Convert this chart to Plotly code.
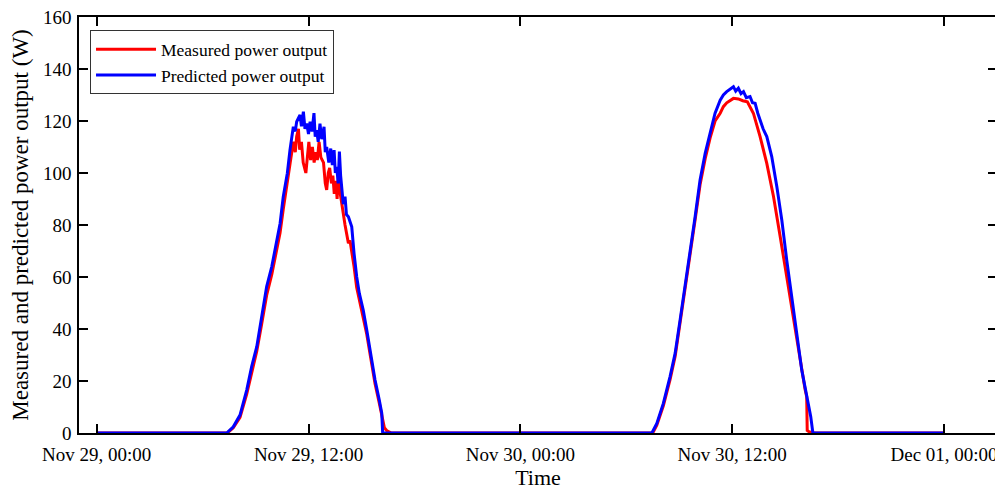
import pandas as pd
import plotly.graph_objects as go

# hours since Nov 29, 00:00
measured_hours = [0, 7.4, 7.74, 8.12, 8.5, 8.78, 9.07, 9.35, 9.63, 9.92, 10.1, 10.25, 10.39, 10.57, 10.7, 10.8,
                  10.95, 11.05, 11.14, 11.25, 11.33, 11.43, 11.5, 11.6, 11.7, 11.85, 11.95, 12.02, 12.12, 12.22,
                  12.32, 12.4, 12.5, 12.6, 12.7, 12.85, 12.95, 13.03, 13.12, 13.2, 13.3, 13.38, 13.46, 13.55,
                  13.62, 13.7, 13.8, 13.88, 13.98, 14.07, 14.15, 14.26, 14.35, 14.45, 14.58, 14.73, 14.88, 15.1,
                  15.3, 15.52, 15.77, 16.01, 16.15, 16.22, 16.3, 16.45, 16.7,
                  31.5, 31.73, 32.1, 32.48, 32.77, 33.05, 33.33, 33.62, 33.9, 34.18, 34.47, 34.75, 35.03, 35.32,
                  35.5, 35.69, 36.07, 36.35, 36.6, 36.86, 37.2, 37.58, 37.96, 38.34, 38.72, 39.09, 39.47, 39.85,
                  40.13, 40.22, 40.25, 40.35, 40.6, 48]
measured_power = [0, 0, 2.0, 6.0, 15, 23.5, 31.5, 42, 53, 61, 67, 73, 77, 86, 92, 96,
                  104, 109, 112, 108, 114, 117, 109, 112, 104, 100, 108, 112, 105, 110,
                  104, 108, 105, 112, 106, 104, 96, 93.5, 100, 102, 96, 99, 92, 97,
                  90, 99, 92, 88, 84, 80, 77, 73, 74, 70, 64, 56, 51, 45,
                  38, 29, 19, 11.5, 6.5, 4, 2, 0.8, 0,
                  0, 3, 10.5, 20.5, 29.5, 42, 55, 69, 82, 95.5, 105.5, 113.5, 120, 123,
                  125.5, 127, 128.7, 128.5, 127.8, 127.4, 123, 114, 103.7, 91, 75.5, 60, 43.5, 27,
                  16.7, 14, 1, 0.5, 0, 0]

predicted_hours = [0, 7.37, 7.74, 8.12, 8.5, 8.78, 9.07, 9.35, 9.63, 9.92, 10.1, 10.25, 10.39, 10.57, 10.7, 10.8,
                   10.95, 11.05, 11.14, 11.25, 11.33, 11.42, 11.52, 11.6, 11.71, 11.8, 11.9, 12.0, 12.09, 12.2,
                   12.31, 12.38, 12.46, 12.55, 12.65, 12.75, 12.88, 12.95, 13.03, 13.15, 13.26, 13.35, 13.45,
                   13.52, 13.6, 13.68, 13.75, 13.82, 13.88, 13.97, 14.07, 14.15, 14.26, 14.35, 14.45, 14.58,
                   14.73, 14.88, 15.1, 15.3, 15.52, 15.77, 16.01, 16.15, 16.2,
                   31.45, 31.73, 32.1, 32.48, 32.77, 33.05, 33.33, 33.62, 33.9, 34.18, 34.47, 34.75, 35.03,
                   35.32, 35.5, 35.69, 35.85, 36.07, 36.2, 36.35, 36.5, 36.64, 36.8, 37.01, 37.15, 37.3, 37.45,
                   37.58, 37.75, 37.96, 38.1, 38.24, 38.53, 38.81, 39.09, 39.38, 39.66, 39.94, 40.23, 40.45,
                   40.57, 48]
predicted_power = [0, 0, 2.4, 6.9, 16.5, 25.5, 33.2, 44.7, 56.3, 64, 70.4, 76, 80.6, 90.9, 96, 99.9,
                   108.8, 114, 117.8, 116, 119.7, 121, 122.3, 118, 123.6, 117, 119, 115, 119.7, 116,
                   123, 114, 116.5, 112, 119, 113, 117.8, 108, 110, 104, 109.4, 103, 108.8,
                   100, 102.4, 96, 108.2, 99, 93.5, 88, 90.9, 84, 83.2, 81, 79.3, 69.1,
                   60.1, 53.7, 47.3, 39.6, 30.6, 20.4, 12.7, 7.6, 0,
                   0, 3.7, 11.4, 21.7, 30.7, 43.5, 56.3, 70.4, 83.2, 97.3, 107.6, 115.3, 123,
                   128, 130, 131.3, 132, 133.2, 131.5, 132.6, 130.5, 131.3, 129, 129.4, 127, 126.8, 123,
                   120.4, 117, 114, 110, 106.3, 94.7, 81.9, 66.5, 52.4, 38.3, 24.2, 14, 6.3,
                   0, 0]

x_tick_labels_start = "2021-11-29 00:00"
start = pd.Timestamp(x_tick_labels_start)
t_meas = [start + pd.Timedelta(hours=h) for h in measured_hours]
t_pred = [start + pd.Timedelta(hours=h) for h in predicted_hours]

FONT = "Liberation Serif, Times New Roman, serif"

fig = go.Figure()
fig.add_trace(go.Scatter(x=t_meas, y=measured_power, mode="lines", name="Measured power output",
                         line=dict(color="#FF0000", width=3)))
fig.add_trace(go.Scatter(x=t_pred, y=predicted_power, mode="lines", name="Predicted power output",
                         line=dict(color="#0000FF", width=3)))

fig.update_layout(
    width=995, height=482,
    margin=dict(l=71, r=6, t=9, b=57),
    paper_bgcolor="white", plot_bgcolor="white",
    font=dict(family=FONT, size=18, color="black"),
    showlegend=True,
    legend=dict(x=0.012, y=0.968, xanchor="left", yanchor="top",
                bordercolor="#333333", borderwidth=1, bgcolor="white",
                font=dict(family=FONT, size=17.5), tracegroupgap=0,
                itemwidth=60),
    xaxis=dict(
        range=[start - pd.Timedelta(hours=1), start + pd.Timedelta(hours=51)],
        tick0=start, dtick=12 * 3600 * 1000, tickformat="%b %d, %H:%M",
        ticks="inside", ticklen=9, tickwidth=2, tickcolor="black",
        showline=True, linecolor="black", linewidth=1.5, mirror="ticks",
        showgrid=False, zeroline=False, automargin=False,
        title=dict(text="Time", font=dict(family=FONT, size=22), standoff=8),
        tickfont=dict(family=FONT, size=19), ticklabelstandoff=3,
        ticklabeloverflow="allow",
    ),
    yaxis=dict(
        range=[0, 160], dtick=20,
        ticks="inside", ticklen=9, tickwidth=2, tickcolor="black",
        showline=True, linecolor="black", linewidth=1.5, mirror="ticks",
        showgrid=False, zeroline=False, automargin=False,
        title=dict(text="Measured and predicted power output (W)", font=dict(family=FONT, size=23), standoff=10),
        tickfont=dict(family=FONT, size=19), ticklabelstandoff=2,
        ticklabeloverflow="allow",
    ),
)

fig.write_html("out.html")
